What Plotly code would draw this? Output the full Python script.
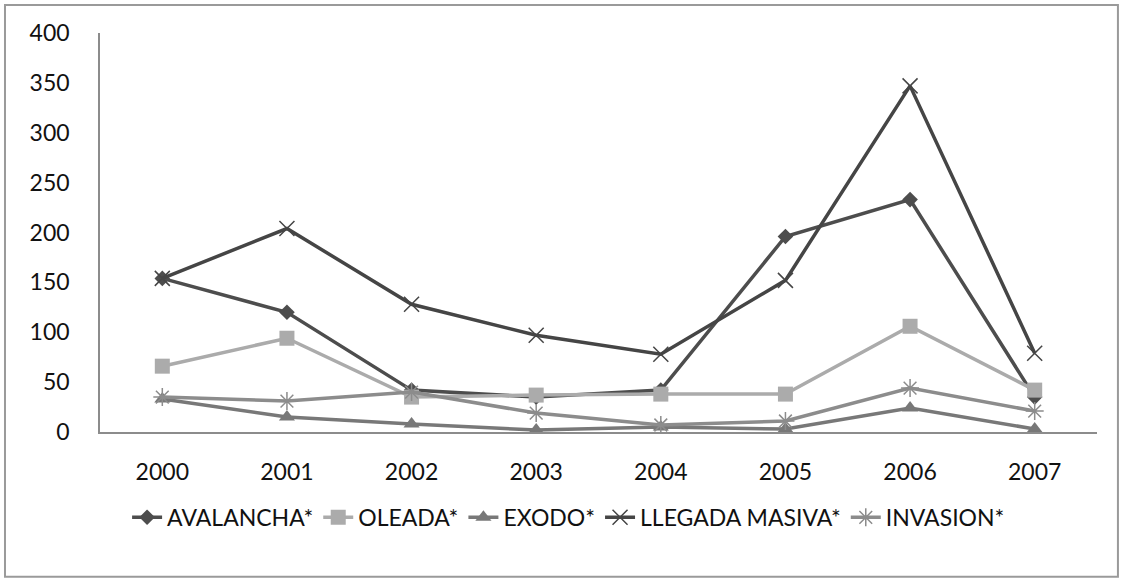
import plotly.graph_objects as go

years = ["2000", "2001", "2002", "2003", "2004", "2005", "2006", "2007"]
avalancha = [154, 120, 42, 35, 42, 196, 233, 35]
oleada = [66, 94, 35, 37, 38, 38, 106, 42]
exodo = [33, 15, 8, 2, 5, 3, 24, 3]
llegada = [154, 204, 128, 97, 78, 152, 347, 79]
invasion = [35, 31, 40, 19, 7, 11, 44, 21]

series = [
    ("AVALANCHA*", avalancha, "#4d4d4d", "diamond", 12, 0),
    ("OLEADA*", oleada, "#ababab", "square", 15, 0),
    ("EXODO*", exodo, "#787878", "triangle-up", 14, 0),
    ("LLEGADA MASIVA*", llegada, "#454545", "x-thin-open", 15, 1.5),
    ("INVASION*", invasion, "#8c8c8c", "asterisk-open", 15, 1.5),
]

fig = go.Figure()
for name, vals, color, sym, size, lw in series:
    fig.add_trace(go.Scatter(
        x=years, y=vals, name=name, mode="lines+markers",
        line=dict(color=color, width=3.5),
        marker=dict(symbol=sym, size=size, color=color,
                    line=dict(color=color, width=lw)),
    ))

tickfont = dict(family="Lato", size=23, color="#111111")

fig.update_layout(
    width=1123, height=581,
    margin=dict(l=100, r=26, t=33, b=149),
    paper_bgcolor="white", plot_bgcolor="white",
    font=dict(family="Lato, Open Sans, sans-serif", color="#1a1a1a"),
    showlegend=True,
    legend=dict(orientation="h", x=0.47, xanchor="center", y=-0.16, yanchor="top",
                font=dict(family="Lato", size=23, color="#111111"),
                itemwidth=30, tracegroupgap=0),
    xaxis=dict(type="category", range=[-0.5, 7.5], showgrid=False,
               showline=True, linecolor="#8c8c8c", linewidth=1.5,
               ticks="", tickfont=tickfont, automargin=False,
               ticklabelstandoff=19, zeroline=False),
    yaxis=dict(range=[0, 400], dtick=50, showgrid=False,
               showline=True, linecolor="#8c8c8c", linewidth=1.5,
               ticks="", tickfont=tickfont, automargin=False,
               ticklabelstandoff=24, zeroline=False),
    shapes=[dict(type="rect", xref="paper", yref="paper",
                 x0=-0.0953, x1=1.021, y0=-0.363, y1=1.070,
                 line=dict(color="#9a9a9a", width=2), fillcolor="rgba(0,0,0,0)",
                 layer="below")],
)

fig.write_html("out.html", config={"displayModeBar": False},
               post_script="document.body.style.margin='0';")
